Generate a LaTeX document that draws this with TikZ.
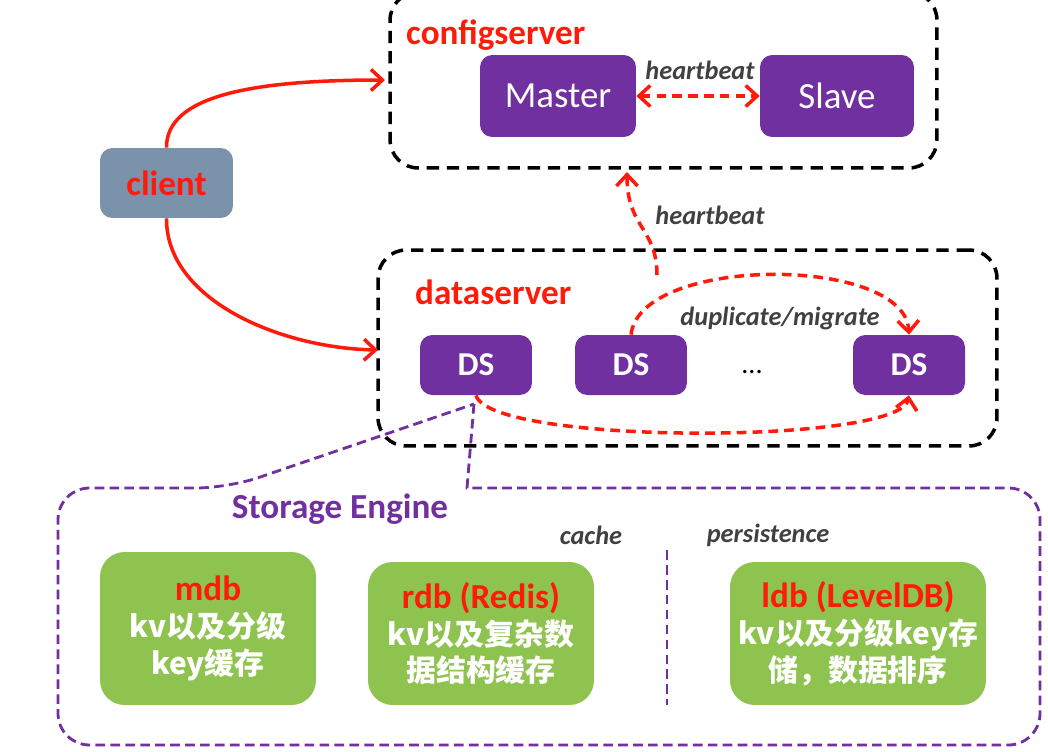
\documentclass[tikz,border=0pt]{standalone}
\usepackage{fontspec}
\setmainfont{Carlito}
\newfontfamily\cjk{Noto Sans CJK SC}
\usetikzlibrary{positioning, arrows.meta}
\definecolor{dspurple}{HTML}{7030A0}
\definecolor{segreen}{HTML}{8FC34F}
\definecolor{clientgray}{HTML}{7A93AB}
\definecolor{labelred}{HTML}{FF1A0A}
\definecolor{notegray}{HTML}{404040}
\tikzset{
  >={Straight Barb[length=6.5pt,width=12pt]},
  cluster/.style={draw=black, line width=2pt, dash pattern=on 7pt off 4.5pt, rounded corners=16pt, inner sep=0pt},
  server/.style={fill=dspurple, text=white, rounded corners=7pt, inner sep=0pt},
  engine/.style={fill=segreen, text=white, rounded corners=14pt, align=center, inner sep=0pt, font=\bfseries\fontsize{17}{21}\selectfont},
  flow/.style={->, draw=labelred, line width=2pt},
  sync/.style={flow, dash pattern=on 5.5pt off 3.5pt},
  part/.style={draw=dspurple, line width=1.6pt, dash pattern=on 5.5pt off 3pt},
  title/.style={text=labelred, font=\bfseries\fontsize{20}{24}\selectfont},
  note/.style={text=notegray, font=\bfseries\itshape\fontsize{15}{18}\selectfont},
}

\begin{document}
\begin{tikzpicture}[x=0.02cm, y=-0.02cm]
        \useasboundingbox (0,0) rectangle (1048,751);

        % clusters
        \node[cluster, minimum width=10.94cm, minimum height=3.52cm] (config) at (663.5,80) {};
        \node[cluster, minimum width=12.38cm, minimum height=3.92cm] (data) at (687.5,348) {};
        \node[title, anchor=west] (cfgtitle) at (400,35) {configserver};
        \node[title, anchor=west] (datatitle) at (409,292) {dataserver};

        % servers
        \node[server, minimum width=3.12cm, minimum height=1.64cm, font=\fontsize{21}{25}\selectfont] (master) at (558,96) {Master};
        \node[server, minimum width=3.08cm, minimum height=1.64cm, font=\fontsize{21}{25}\selectfont] (slave) at (837,96) {Slave};
        \node[server, minimum width=2.24cm, minimum height=1.2cm, font=\bfseries\fontsize{19}{23}\selectfont] (ds1) at (476,365) {DS};
        \node[server, minimum width=2.24cm, minimum height=1.2cm, font=\bfseries\fontsize{19}{23}\selectfont] (ds2) at (631,365) {DS};
        \node[server, minimum width=2.24cm, minimum height=1.2cm, font=\bfseries\fontsize{19}{23}\selectfont] (ds3) at (909,365) {DS};
        \node[font=\fontsize{16}{18}\selectfont] (dots) at (752,372) {...};

        % client
        \node[fill=clientgray, rounded corners=7pt, minimum width=2.66cm, minimum height=1.4cm, title] (client) at (166.5,183) {client};

        % free ends
        \coordinate (cfgin) at (385,80);
        \coordinate (datain) at (378,350);
        \coordinate (hbfrom) at (657,275);
        \coordinate (hbto) at (627,172);
        \coordinate (tip) at (474,404);

        % connectors
        \draw[flow] (client.north) .. controls (166,95) and (255,80) .. (cfgin);
        \draw[flow] (client.south) .. controls (166,300) and (280,348) .. (datain);
        \draw[sync, <->] (master.east) -- (slave.west);
        \draw[sync] (hbfrom) .. controls (657,228) and (627,228) .. (hbto);
        \draw[sync] (ds2.north) .. controls (640,255) and (905,255) .. (ds3.north);
        \draw[sync] (ds1.south) .. controls (490,445) and (900,445) .. (ds3.south);
        \node[note] (hbtop) at (700,70) {heartbeat};
        \node[note] (hbmid) at (710,215) {heartbeat};
        \node[note] (dup) at (780,318) {duplicate/migrate};

        % storage engine
        \draw[part] (tip) -- (467,488) [rounded corners=18pt] -- (1040,488) -- (1040,745) -- (58,745) -- (58,488) -- (228,488) [sharp corners] -- (tip);
        \node[text=dspurple, font=\bfseries\fontsize{20}{24}\selectfont] (setitle) at (340,509) {Storage Engine};
        \node[note] (cache) at (591,535) {cache};
        \node[note] (persist) at (768,535) {persistence};
        \draw[part] (667,550) -- (667,705);
        \node[engine, minimum width=4.32cm, minimum height=3.06cm] (mdb) at (208,628.5)
          {\textcolor{labelred}{\fontsize{20}{21}\selectfont mdb}\\\cjk kv以及分级\\\cjk key缓存};
        \node[engine, minimum width=4.52cm, minimum height=2.86cm] (rdb) at (481,633.5)
          {\textcolor{labelred}{\fontsize{20}{21}\selectfont rdb (Redis)}\\\cjk kv以及复杂数\\\cjk 据结构缓存};
        \node[engine, minimum width=5.12cm, minimum height=2.86cm] (ldb) at (858,633.5)
          {\textcolor{labelred}{\fontsize{20}{21}\selectfont ldb (LevelDB)}\\\cjk kv以及分级key存\\\cjk 储，数据排序};

      \end{tikzpicture}
\end{document}
